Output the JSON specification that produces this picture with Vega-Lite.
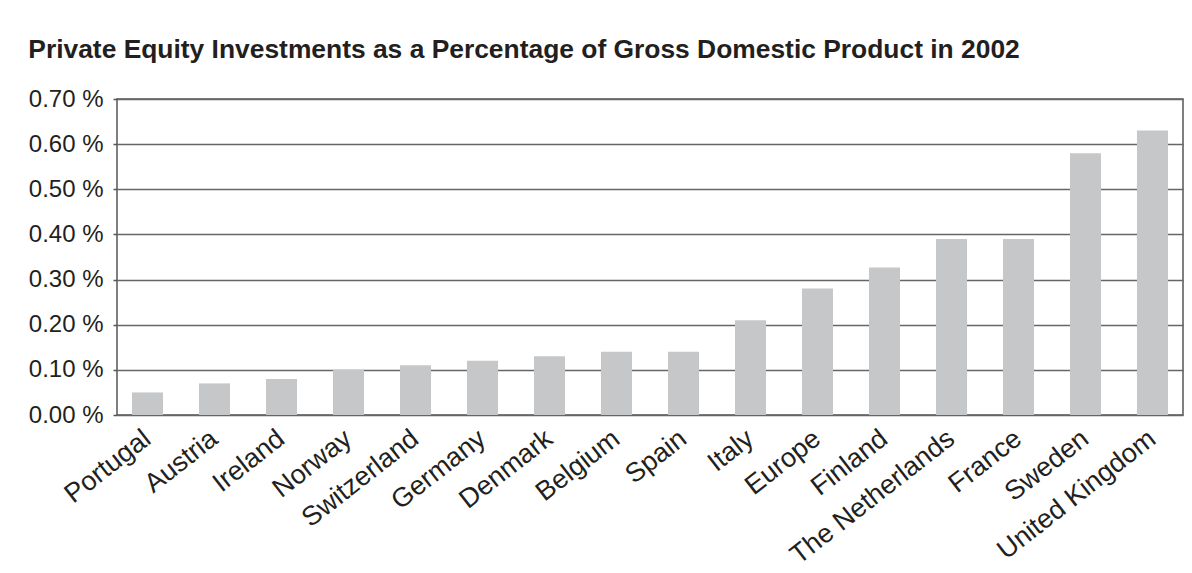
{
  "$schema": "https://vega.github.io/schema/vega-lite/v6.json",
  "width": 1066,
  "height": 316,
  "autosize": {"type": "none"},
  "padding": {"left": 117, "top": 99, "right": 9, "bottom": 158},
  "background": "white",
  "title": {
    "text": "Private Equity Investments as a Percentage of Gross Domestic Product in 2002",
    "anchor": "start",
    "frame": "bounds",
    "font": "Liberation Sans",
    "fontWeight": "bold",
    "fontSize": 26.4,
    "color": "#231f20",
    "offset": 24
  },
  "data": {
    "values": [
      {"country": "Portugal", "value": 0.0005},
      {"country": "Austria", "value": 0.0007},
      {"country": "Ireland", "value": 0.0008},
      {"country": "Norway", "value": 0.0010},
      {"country": "Switzerland", "value": 0.0011},
      {"country": "Germany", "value": 0.0012},
      {"country": "Denmark", "value": 0.0013},
      {"country": "Belgium", "value": 0.0014},
      {"country": "Spain", "value": 0.0014},
      {"country": "Italy", "value": 0.0021},
      {"country": "Europe", "value": 0.0028},
      {"country": "Finland", "value": 0.00327},
      {"country": "The Netherlands", "value": 0.0039},
      {"country": "France", "value": 0.0039},
      {"country": "Sweden", "value": 0.0058},
      {"country": "United Kingdom", "value": 0.0063}
    ]
  },
  "mark": {"type": "bar", "color": "#c6c7c9"},
  "encoding": {
    "x": {
      "field": "country",
      "type": "nominal",
      "sort": null,
      "title": null,
      "scale": {"paddingInner": 0.537, "paddingOuter": 0.224},
      "axis": {
        "labelAngle": -38,
        "labelAlign": "right",
        "labelBaseline": "top",
        "labelPadding": 10,
        "labelOffset": -8,
        "labelLimit": 400,
        "labelOverlap": false,
        "ticks": false,
        "domain": false,
        "labelFont": "Liberation Sans",
        "labelFontSize": 27,
        "labelColor": "#231f20"
      }
    },
    "y": {
      "field": "value",
      "type": "quantitative",
      "title": null,
      "scale": {"domain": [0, 0.007], "nice": false},
      "axis": {
        "values": [0, 0.001, 0.002, 0.003, 0.004, 0.005, 0.006, 0.007],
        "labelExpr": "format(datum.value * 100, '.2f') + ' %'",
        "tickSize": 4,
        "tickColor": "#555555",
        "tickWidth": 1.5,
        "labelPadding": 10,
        "labelFont": "Liberation Sans",
        "labelFontSize": 24,
        "labelColor": "#231f20",
        "domain": false,
        "grid": true,
        "gridColor": "#666666",
        "gridWidth": 1.5,
        "gridOpacity": 1,
        "zindex": 0
      }
    }
  },
  "config": {
    "view": {"stroke": "#555555", "strokeWidth": 1.5}
  }
}
